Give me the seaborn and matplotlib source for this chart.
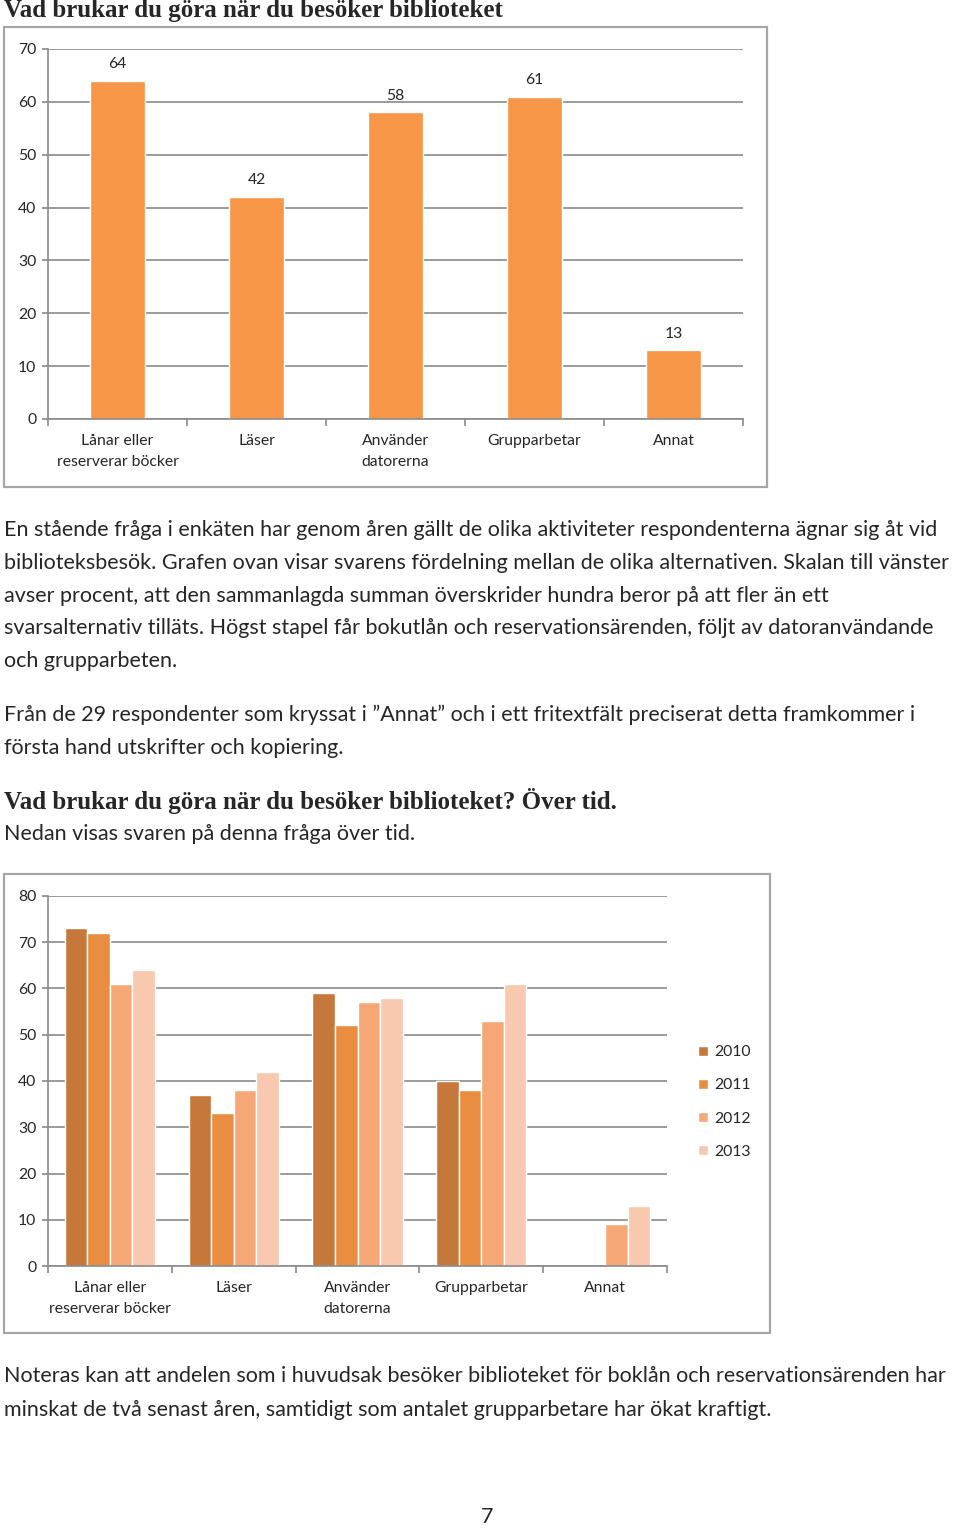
import numpy as np
import pandas as pd
import matplotlib
matplotlib.use("Agg")
import matplotlib.pyplot as plt
import matplotlib.patches as mpatches
import seaborn as sns

# ---------------- data ----------------
categories = ["Lånar eller\nreserverar böcker", "Läser", "Använder\ndatorerna", "Grupparbetar", "Annat"]
values_total = [64, 42, 58, 61, 13]

years = ["2010", "2011", "2012", "2013"]
values_2010 = [73, 37, 59, 40, np.nan]
values_2011 = [72, 33, 52, 38, np.nan]
values_2012 = [61, 38, 57, 53, 9]
values_2013 = [64, 42, 58, 61, 13]

title1 = "Vad brukar du göra när du besöker biblioteket"
title2 = "Vad brukar du göra när du besöker biblioteket? Över tid."
para1 = [
    "En stående fråga i enkäten har genom åren gällt de olika aktiviteter respondenterna ägnar sig åt vid",
    "biblioteksbesök. Grafen ovan visar svarens fördelning mellan de olika alternativen. Skalan till vänster",
    "avser procent, att den sammanlagda summan överskrider hundra beror på att fler än ett",
    "svarsalternativ tilläts. Högst stapel får bokutlån och reservationsärenden, följt av datoranvändande",
    "och grupparbeten.",
]
para2 = [
    "Från de 29 respondenter som kryssat i ”Annat” och i ett fritextfält preciserat detta framkommer i",
    "första hand utskrifter och kopiering.",
]
para3 = ["Nedan visas svaren på denna fråga över tid."]
para4 = [
    "Noteras kan att andelen som i huvudsak besöker biblioteket för boklån och reservationsärenden har",
    "minskat de två senast åren, samtidigt som antalet grupparbetare har ökat kraftigt.",
]
page_number = "7"

# ---------------- style ----------------
sns.set_style("white")
plt.rcParams["font.family"] = ["Lato", "DejaVu Sans"]

W, H = 960, 1528
fig = plt.figure(figsize=(W / 100, H / 100), dpi=100)
fig.patch.set_facecolor("white")

def fx(px):
    return px / W

def fy(py):
    return 1 - py / H

grid_col = "#8a8a8a"
frame_col = "#a6a6a6"
tick_fs = 11.3
body_fs = 15.5
title_fs = 18
serif = ["Liberation Serif", "DejaVu Serif"]

def style_axes(ax, ymax, n):
    ax.set_ylim(0, ymax)
    ax.set_xlim(-0.5, n - 0.5)
    ax.set_yticks(np.arange(0, ymax + 1, 10))
    ax.yaxis.grid(True, color=grid_col, linewidth=1.2)
    ax.set_axisbelow(True)
    for s in ["top", "right"]:
        ax.spines[s].set_visible(False)
    for s in ["left", "bottom"]:
        ax.spines[s].set_color(grid_col)
        ax.spines[s].set_linewidth(1.2)
    ax.set_xticks(np.arange(n + 1) - 0.5)
    ax.set_xticklabels([""] * (n + 1))
    ax.set_xticks(np.arange(n), minor=True)
    ax.set_xticklabels(categories, minor=True, fontsize=tick_fs, linespacing=1.6)
    ax.tick_params(axis="x", which="major", direction="out", length=5, width=1.2, color=grid_col, bottom=True)
    ax.tick_params(axis="x", which="minor", length=0, pad=11)
    ax.tick_params(axis="y", direction="out", length=4.5, width=1.2, color=grid_col, left=True,
                   labelsize=tick_fs, pad=4)
    ax.set_xlabel("")
    ax.set_ylabel("")
    ax.set_facecolor("white")

# ---------------- chart 1 ----------------
fig.add_artist(mpatches.Rectangle((fx(4), fy(487)), fx(767) - fx(4), fy(27) - fy(487),
                                  transform=fig.transFigure, fill=False, edgecolor=frame_col, linewidth=1.6))
ax1 = fig.add_axes([fx(48), fy(419), fx(743) - fx(48), fy(49) - fy(419)])
df1 = pd.DataFrame({"cat": categories, "val": values_total})
sns.barplot(data=df1, x="cat", y="val", color="#F79646", saturation=1, width=0.4, ax=ax1)
style_axes(ax1, 70, len(categories))
ax1.bar_label(ax1.containers[0], fmt="%d", padding=7, fontsize=tick_fs)

# ---------------- chart 2 ----------------
fig.add_artist(mpatches.Rectangle((fx(4), fy(1333)), fx(770) - fx(4), fy(874) - fy(1333),
                                  transform=fig.transFigure, fill=False, edgecolor=frame_col, linewidth=1.6))
ax2 = fig.add_axes([fx(48), fy(1266), fx(667) - fx(48), fy(896) - fy(1266)])
rows = []
for y, vals in zip(years, [values_2010, values_2011, values_2012, values_2013]):
    for c, v in zip(categories, vals):
        rows.append({"cat": c, "year": y, "val": v})
df2 = pd.DataFrame(rows)
palette = {"2010": "#C57839", "2011": "#E98E40", "2012": "#F5A876", "2013": "#F8C8AF"}
sns.barplot(data=df2, x="cat", y="val", hue="year", hue_order=years, order=categories,
            palette=palette, saturation=1, width=0.73, ax=ax2)
style_axes(ax2, 80, len(categories))
ax2.legend(loc="center left", bbox_to_anchor=(fx(692), fy(1102)), bbox_transform=fig.transFigure,
           frameon=False, fontsize=tick_fs, handlelength=0.6, handleheight=0.6,
           handletextpad=0.4, labelspacing=1.22, borderaxespad=0)

# ---------------- text ----------------
fig.text(fx(4), fy(10), title1, fontsize=title_fs, fontweight="bold", family=serif, va="center", ha="left")

def lines(txts, y0, step=33):
    for i, t in enumerate(txts):
        fig.text(fx(4), fy(y0 + i * step), t, fontsize=body_fs, va="center", ha="left")

lines(para1, 530, 32.8)
lines(para2, 715, 33)
fig.text(fx(4), fy(801), title2, fontsize=title_fs, fontweight="bold", family=serif, va="center", ha="left")
lines(para3, 834)
lines(para4, 1376, 34)
fig.text(fx(487), fy(1517), page_number, fontsize=body_fs, va="center", ha="center")

fig.savefig("out.png", dpi=100, facecolor="white")
